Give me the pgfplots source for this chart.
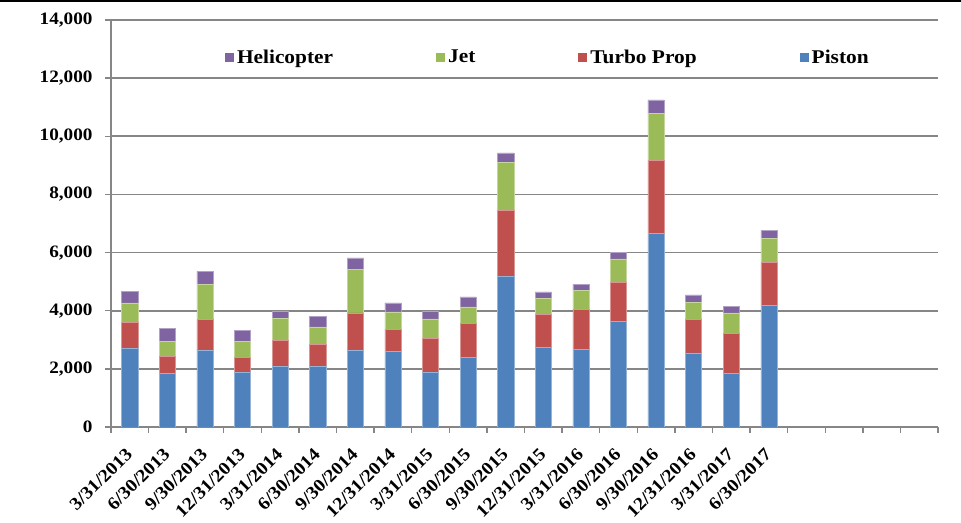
\documentclass[border=0pt]{standalone}
\usepackage{fontspec}
\setmainfont{Liberation Serif}[FakeStretch=1.1]
\usepackage{pgfplots}
\pgfplotsset{compat=1.18}
\definecolor{cPiston}{HTML}{4F81BD}
\definecolor{cTurbo}{HTML}{C0504D}
\definecolor{cJet}{HTML}{9BBB59}
\definecolor{cHeli}{HTML}{8064A2}
\definecolor{axgray}{HTML}{868686}
\begin{document}
\begin{tikzpicture}
\useasboundingbox (0,0) rectangle (961bp,523bp);
\fill[white] (0,0) rectangle (961bp,523bp);
\draw[black, line width=1.6bp] (0,522.2bp) -- (961bp,522.2bp);
\begin{axis}[
  at={(111bp,96bp)}, anchor=south west,
  scale only axis, width=827bp, height=407bp,
  ybar stacked, bar width=0.43,
  xmin=-0.5, xmax=21.5, ymin=0, ymax=14000,
  axis x line*=bottom, axis y line*=left,
  axis line style={draw=axgray, line width=1.8bp},
  every tick/.style={draw=axgray, line width=1.4bp},
  tick align=outside, major tick length=6bp,
  xtick={-0.5,0.5,...,21.5}, xticklabels={},
  extra x ticks={0,1,...,17},
  extra x tick labels={3/31/2013,6/30/2013,9/30/2013,12/31/2013,3/31/2014,6/30/2014,9/30/2014,12/31/2014,3/31/2015,6/30/2015,9/30/2015,12/31/2015,3/31/2016,6/30/2016,9/30/2016,12/31/2016,3/31/2017,6/30/2017},
  extra x tick style={major tick length=0pt, grid=none},
  x tick label style={xshift=-5bp, yshift=-18bp, rotate=45, anchor=north east, font=\fontsize{18}{20}\selectfont\bfseries, inner sep=1bp},
  ytick={0,2000,...,14000},
  y tick label style={font=\fontsize{17.5}{20}\selectfont\bfseries, xshift=-9bp},
  /pgf/number format/assume math mode=true,
  /pgf/number format/1000 sep={,},
  scaled y ticks=false,
  ymajorgrids, grid style={draw=axgray, line width=1.6bp},
  reverse legend,
  legend columns=4,
  legend style={at={(0.134,0.909)}, anchor=west, draw=none, fill=none,
    font=\fontsize{19.5}{22}\selectfont\bfseries,
    /tikz/every even column/.append style={column sep=100bp},
    nodes={inner xsep=3bp}},
  legend image code/.code={\fill[#1, draw=none] (0bp,-4.5bp) rectangle (9bp,4.5bp);},
]
\addplot[fill=cPiston, draw=cPiston!60!white, line width=0.5bp] coordinates {(0,2707) (1,1847) (2,2649) (3,1868) (4,2098) (5,2075) (6,2649) (7,2591) (8,1881) (9,2397) (10,5171) (11,2740) (12,2672) (13,3623) (14,6651) (15,2546) (16,1847) (17,4174)};
\addplot[fill=cTurbo, draw=cTurbo!60!white, line width=0.5bp] coordinates {(0,894) (1,585) (2,1042) (3,516) (4,871) (5,756) (6,1273) (7,769) (8,1169) (9,1157) (10,2270) (11,1136) (12,1363) (13,1342) (14,2509) (15,1145) (16,1376) (17,1479)};
\addplot[fill=cJet, draw=cJet!60!white, line width=0.5bp] coordinates {(0,665) (1,526) (2,1204) (3,574) (4,769) (5,609) (6,1489) (7,596) (8,665) (9,574) (10,1664) (11,550) (12,667) (13,814) (14,1630) (15,586) (16,699) (17,838)};
\addplot[fill=cHeli, draw=cHeli!60!white, line width=0.5bp] coordinates {(0,402) (1,437) (2,461) (3,368) (4,241) (5,367) (6,403) (7,310) (8,252) (9,344) (10,321) (11,218) (12,207) (13,229) (14,459) (15,264) (16,230) (17,262)};
\legend{Piston, Turbo Prop, Jet, Helicopter}
\end{axis}
\end{tikzpicture}
\end{document}
